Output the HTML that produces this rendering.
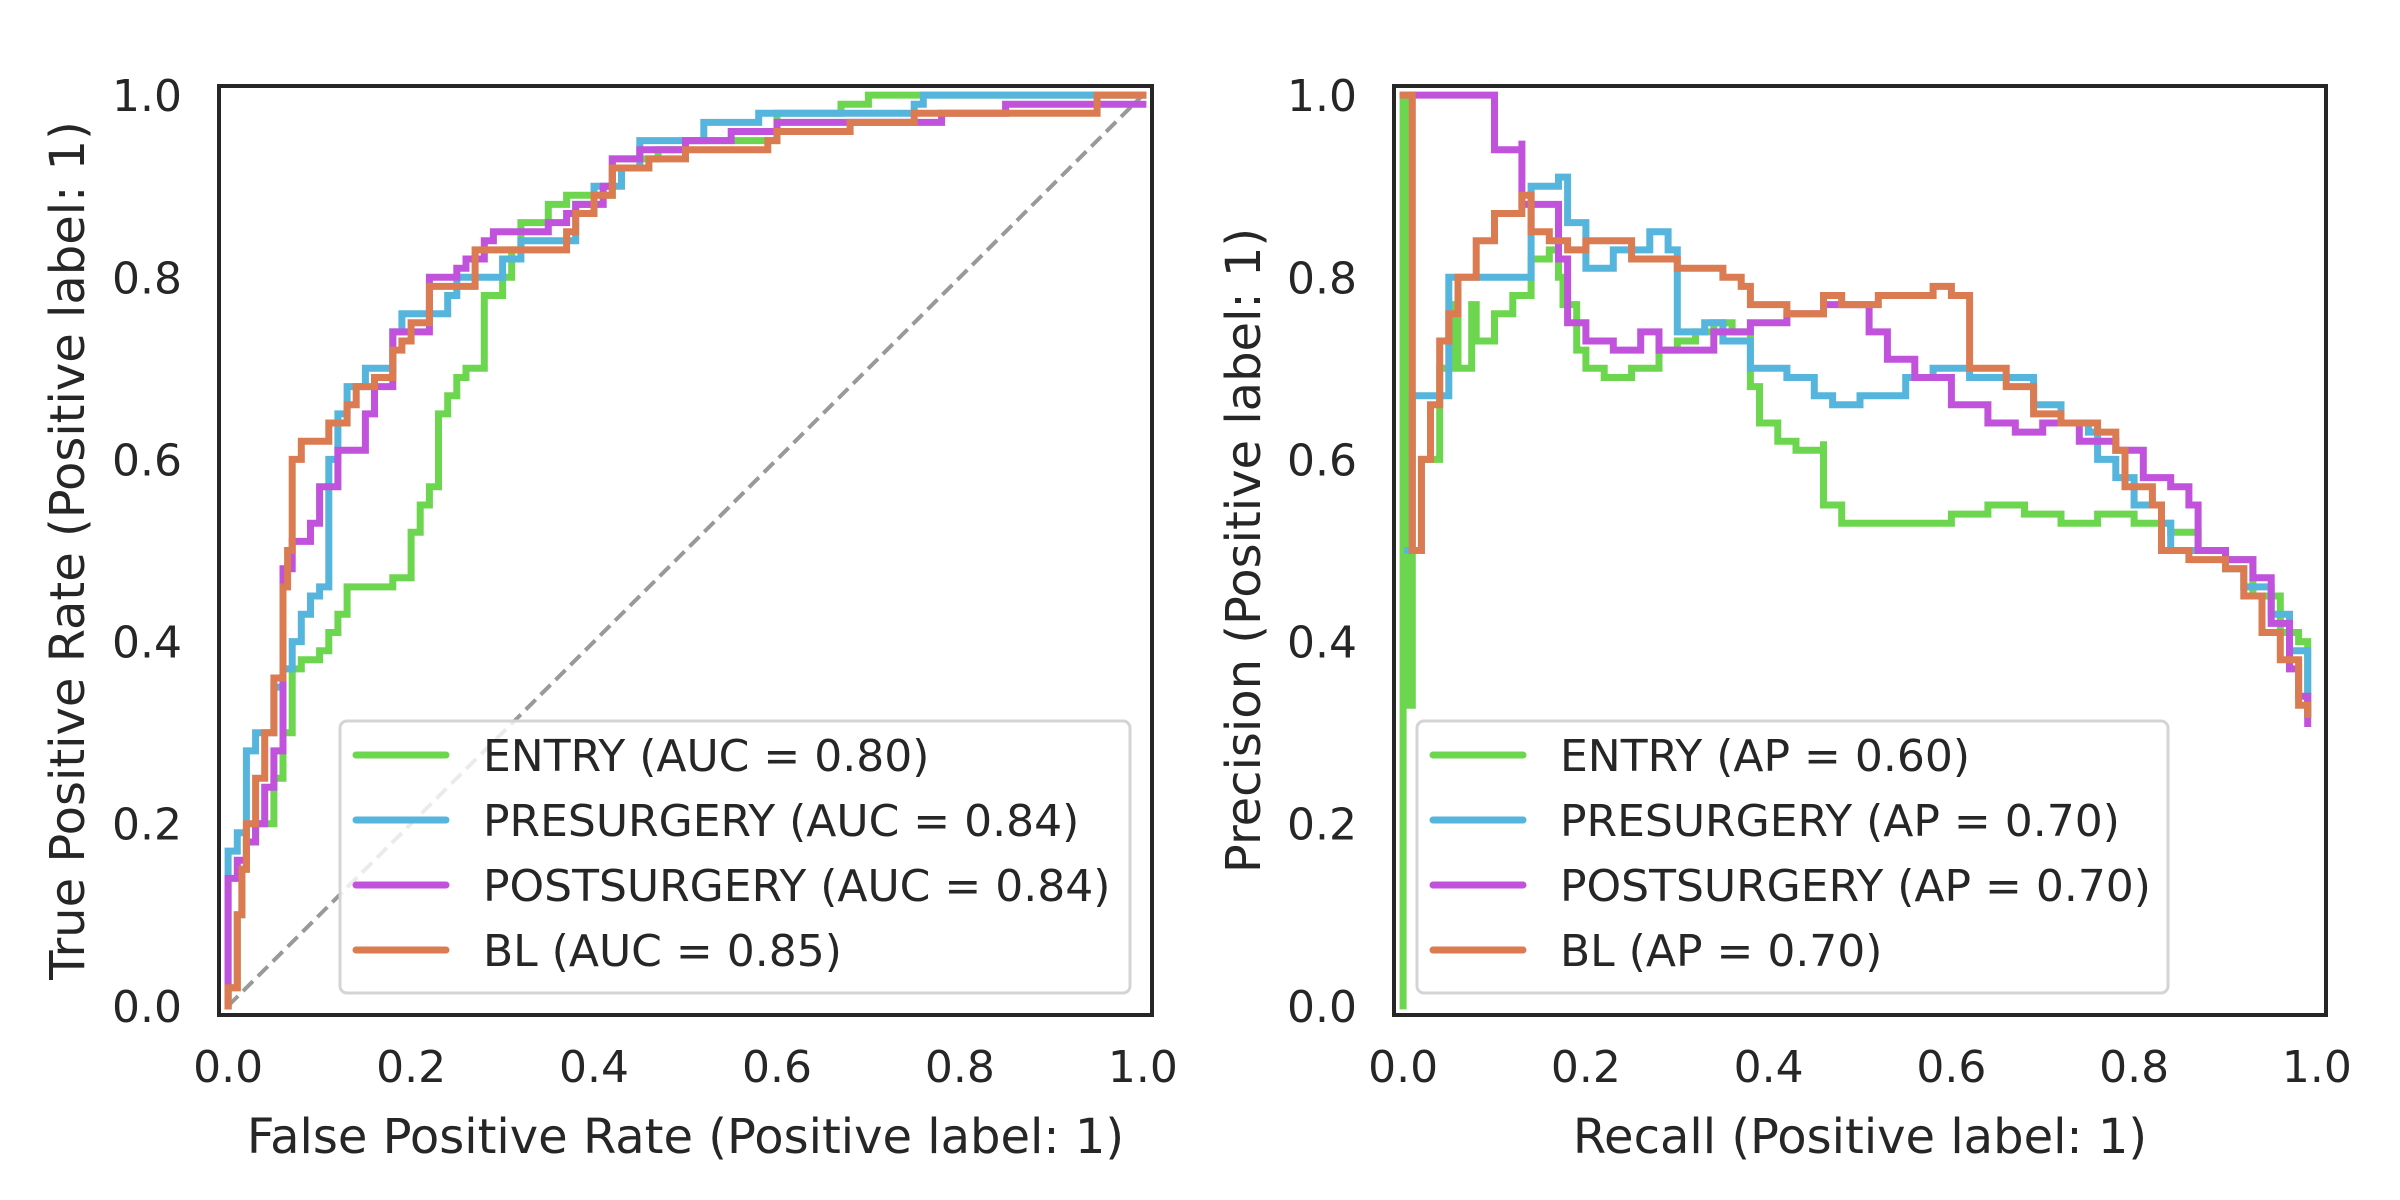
<!DOCTYPE html>
<html><head><meta charset="utf-8">
<style>
html,body{margin:0;padding:0;background:#fff;}
svg{display:block;font-family:"DejaVu Sans","Liberation Sans",sans-serif;}
</style></head>
<body>
<svg id="fig" width="2400" height="1200" viewBox="0 0 2400 1200" xmlns="http://www.w3.org/2000/svg">
<rect width="2400" height="1200" fill="#fff"/>
<g id="roc"></g>
<g id="pr"></g>
</svg>
<script>
const seriesNames = ["ENTRY","PRESURGERY","POSTSURGERY","BL"];
const seriesColors = ["#6dd64f","#55b5dc","#c052dc","#db7b52"];
const aucValues = ["0.80","0.84","0.84","0.85"];
const apValues = ["0.60","0.70","0.70","0.70"];
const tickLabels = ["0.0","0.2","0.4","0.6","0.8","1.0"];
const tickValues = [0,0.2,0.4,0.6,0.8,1.0];

const rocEntry = [[0,0],[0.01,0.02],[0.015,0.1],[0.02,0.15],[0.03,0.18],[0.05,0.2],[0.06,0.25],[0.07,0.3],[0.08,0.37],[0.1,0.38],[0.11,0.39],[0.12,0.41],[0.13,0.43],[0.14,0.46],[0.18,0.46],[0.2,0.47],[0.2,0.5],[0.21,0.52],[0.22,0.55],[0.23,0.57],[0.23,0.62],[0.24,0.65],[0.25,0.67],[0.26,0.69],[0.28,0.7],[0.28,0.75],[0.3,0.78],[0.31,0.8],[0.32,0.83],[0.35,0.86],[0.37,0.88],[0.42,0.89],[0.42,0.93],[0.47,0.93],[0.5,0.94],[0.6,0.95],[0.67,0.98],[0.7,0.99],[0.72,1.0],[1,1]];
const rocPre = [[0,0],[0.01,0.17],[0.02,0.19],[0.03,0.28],[0.05,0.3],[0.06,0.35],[0.07,0.37],[0.08,0.4],[0.09,0.43],[0.1,0.45],[0.11,0.46],[0.11,0.58],[0.12,0.6],[0.13,0.65],[0.14,0.68],[0.15,0.68],[0.18,0.7],[0.19,0.74],[0.22,0.76],[0.24,0.76],[0.25,0.78],[0.3,0.8],[0.32,0.82],[0.38,0.84],[0.4,0.88],[0.43,0.9],[0.45,0.92],[0.52,0.95],[0.58,0.97],[0.62,0.98],[0.75,0.98],[0.76,0.99],[0.95,1.0],[1,1]];
const rocPost = [[0,0],[0,0.1],[0.01,0.14],[0.02,0.16],[0.03,0.18],[0.04,0.2],[0.05,0.24],[0.06,0.28],[0.06,0.4],[0.07,0.48],[0.09,0.51],[0.1,0.53],[0.12,0.57],[0.12,0.6],[0.15,0.61],[0.16,0.65],[0.18,0.68],[0.18,0.72],[0.19,0.74],[0.22,0.74],[0.22,0.8],[0.25,0.8],[0.26,0.81],[0.28,0.82],[0.29,0.84],[0.31,0.85],[0.35,0.85],[0.37,0.86],[0.38,0.87],[0.41,0.88],[0.42,0.9],[0.45,0.93],[0.5,0.94],[0.55,0.95],[0.6,0.96],[0.65,0.97],[0.78,0.97],[0.85,0.98],[0.88,0.99],[1,0.99]];
const rocBL = [[0,0],[0.01,0.02],[0.015,0.1],[0.02,0.15],[0.03,0.2],[0.04,0.25],[0.05,0.3],[0.06,0.36],[0.06,0.4],[0.065,0.46],[0.07,0.5],[0.07,0.55],[0.08,0.6],[0.09,0.62],[0.11,0.62],[0.13,0.64],[0.14,0.66],[0.16,0.68],[0.18,0.69],[0.19,0.72],[0.2,0.73],[0.22,0.75],[0.22,0.79],[0.27,0.79],[0.27,0.82],[0.37,0.83],[0.38,0.85],[0.4,0.87],[0.42,0.89],[0.46,0.92],[0.5,0.93],[0.59,0.94],[0.6,0.95],[0.68,0.96],[0.75,0.97],[0.8,0.98],[0.95,0.98],[0.95,1.0],[1,1]];

const prEntry = [[0,0],[0,1],[0.005,0.33],[0.01,0.5],[0.02,0.6],[0.04,0.7],[0.055,0.77],[0.06,0.7],[0.075,0.77],[0.08,0.73],[0.09,0.73],[0.1,0.76],[0.12,0.78],[0.14,0.82],[0.16,0.83],[0.17,0.8],[0.175,0.77],[0.19,0.72],[0.2,0.7],[0.22,0.69],[0.25,0.7],[0.28,0.72],[0.3,0.73],[0.32,0.74],[0.34,0.75],[0.36,0.74],[0.38,0.68],[0.39,0.64],[0.41,0.62],[0.43,0.61],[0.46,0.62],[0.46,0.55],[0.48,0.53],[0.52,0.53],[0.56,0.53],[0.6,0.54],[0.64,0.55],[0.68,0.54],[0.72,0.53],[0.76,0.54],[0.8,0.53],[0.84,0.52],[0.87,0.5],[0.9,0.49],[0.93,0.49],[0.93,0.45],[0.96,0.41],[0.98,0.4],[0.99,0.38],[0.99,0.32]];
const prPre = [[0.005,0.5],[0.01,0.67],[0.05,0.8],[0.14,0.9],[0.17,0.91],[0.18,0.86],[0.2,0.84],[0.2,0.81],[0.23,0.83],[0.27,0.85],[0.29,0.83],[0.3,0.8],[0.3,0.74],[0.33,0.75],[0.35,0.73],[0.38,0.71],[0.38,0.7],[0.42,0.69],[0.45,0.67],[0.47,0.66],[0.5,0.67],[0.55,0.69],[0.58,0.7],[0.62,0.69],[0.65,0.69],[0.68,0.69],[0.69,0.66],[0.72,0.64],[0.75,0.63],[0.76,0.6],[0.78,0.58],[0.8,0.55],[0.83,0.53],[0.84,0.5],[0.88,0.5],[0.9,0.48],[0.92,0.46],[0.95,0.43],[0.97,0.39],[0.99,0.35],[0.99,0.32]];
const prPost = [[0.01,1.0],[0.1,1.0],[0.1,0.94],[0.13,0.95],[0.13,0.88],[0.16,0.88],[0.17,0.82],[0.18,0.75],[0.2,0.73],[0.23,0.72],[0.26,0.74],[0.28,0.72],[0.3,0.72],[0.34,0.74],[0.38,0.75],[0.42,0.76],[0.46,0.77],[0.5,0.77],[0.51,0.74],[0.53,0.71],[0.56,0.69],[0.59,0.69],[0.6,0.66],[0.64,0.64],[0.67,0.63],[0.7,0.64],[0.74,0.62],[0.78,0.61],[0.8,0.61],[0.81,0.58],[0.84,0.57],[0.86,0.55],[0.87,0.5],[0.9,0.49],[0.93,0.47],[0.95,0.42],[0.97,0.37],[0.98,0.34],[0.99,0.31]];
const prBL = [[0.0,1.0],[0.01,1.0],[0.01,0.5],[0.02,0.6],[0.03,0.66],[0.04,0.73],[0.05,0.76],[0.06,0.8],[0.08,0.84],[0.1,0.87],[0.13,0.89],[0.14,0.85],[0.16,0.84],[0.18,0.83],[0.2,0.84],[0.22,0.84],[0.25,0.82],[0.3,0.81],[0.35,0.8],[0.37,0.79],[0.38,0.77],[0.42,0.76],[0.46,0.78],[0.48,0.77],[0.52,0.78],[0.55,0.78],[0.58,0.79],[0.6,0.78],[0.62,0.77],[0.62,0.7],[0.66,0.68],[0.69,0.65],[0.72,0.64],[0.76,0.63],[0.78,0.61],[0.79,0.57],[0.82,0.55],[0.83,0.5],[0.86,0.49],[0.9,0.48],[0.92,0.45],[0.94,0.41],[0.96,0.38],[0.98,0.33],[0.99,0.32]];

const NS = "http://www.w3.org/2000/svg";
function mk(tag, attrs, parent){const e=document.createElementNS(NS,tag);for(const k in attrs)e.setAttribute(k,attrs[k]);parent.appendChild(e);return e;}

function stepPoints(pts, x, y, upFirst){
  const out=[];
  pts.forEach((q,i)=>{
    if(i>0){
      const p=pts[i-1];
      if(upFirst) out.push(x(p[0]).toFixed(1)+','+y(q[1]).toFixed(1));
      else out.push(x(q[0]).toFixed(1)+','+y(p[1]).toFixed(1));
    }
    out.push(x(q[0]).toFixed(1)+','+y(q[1]).toFixed(1));
  });
  return out.join(' ');
}

function drawPanel(g, frameL, frameR, frameT, frameB, series, xTitle, yTitle, yTitleX, legendTexts, legendX, legendW, hasDiag, prefix){
  const pad = (frameR-frameL)/1.02*0.01;
  const padY = (frameB-frameT)/1.02*0.01;
  const x = v => frameL + pad + v*(frameR-frameL-2*pad);
  const y = v => frameB - padY - v*(frameB-frameT-2*padY);
  if(hasDiag){
    const d = mk('line',{x1:x(0),y1:y(0),x2:x(1),y2:y(1),stroke:'#999',"stroke-width":4,"stroke-dasharray":"14,7"},g);
    
    
  }
  series.forEach((pts,i)=>{
    const p = mk('polyline',{points:stepPoints(pts,x,y,hasDiag),fill:'none',stroke:seriesColors[i],"stroke-width":7,"stroke-linejoin":"miter","stroke-linecap":"square"},g);
    
    
  });
  const fr = mk('rect',{x:frameL,y:frameT,width:frameR-frameL,height:frameB-frameT,fill:'none',stroke:'#262626',"stroke-width":4},g);
  
  
  tickValues.forEach((v,i)=>{
    const tx = mk('text',{x:x(v),y:1082,"font-size":44,fill:'#262626',"text-anchor":'middle'},g);
    tx.textContent = tickLabels[i];
    
    
    const ty = mk('text',{x:frameL-37,y:y(v)+16,"font-size":44,fill:'#262626',"text-anchor":'end'},g);
    ty.textContent = tickLabels[i];
    
    
  });
  const xt = mk('text',{x:(frameL+frameR)/2,y:1153,"font-size":48,fill:'#262626',"text-anchor":'middle'},g);
  xt.textContent = xTitle;
  
  
  const cy=(frameT+frameB)/2;
  const yt = mk('text',{x:yTitleX,y:cy,"font-size":48,fill:'#262626',"text-anchor":'middle',transform:'rotate(-90 '+yTitleX+' '+cy+')'},g);
  yt.textContent = yTitle;
  
  
  const lg = mk('g',{},g);
  
  
  mk('rect',{x:legendX,y:721,width:legendW,height:272,rx:7,fill:'rgba(255,255,255,0.8)',stroke:'#d4d4d4',"stroke-width":3},lg);
  legendTexts.forEach((t,i)=>{
    const ry = 755 + i*65;
    const ent = mk('g',{},lg);
    
    
    mk('line',{x1:legendX+16,y1:ry,x2:legendX+106,y2:ry,stroke:seriesColors[i],"stroke-width":7,"stroke-linecap":"round"},ent);
    const tt = mk('text',{x:legendX+143,y:ry+16,"font-size":44,fill:'#262626'},ent);
    tt.textContent = t;
  });
}

drawPanel(document.getElementById('roc'),219,1152,86,1015,[rocEntry,rocPre,rocPost,rocBL],
  "False Positive Rate (Positive label: 1)","True Positive Rate (Positive label: 1)",84,
  seriesNames.map((n,i)=>n+" (AUC = "+aucValues[i]+")"),340,790,true,'roc');
drawPanel(document.getElementById('pr'),1394,2326,86,1015,[prEntry,prPre,prPost,prBL],
  "Recall (Positive label: 1)","Precision (Positive label: 1)",1260,
  seriesNames.map((n,i)=>n+" (AP = "+apValues[i]+")"),1417,751,false,'pr');
</script>
</body></html>
